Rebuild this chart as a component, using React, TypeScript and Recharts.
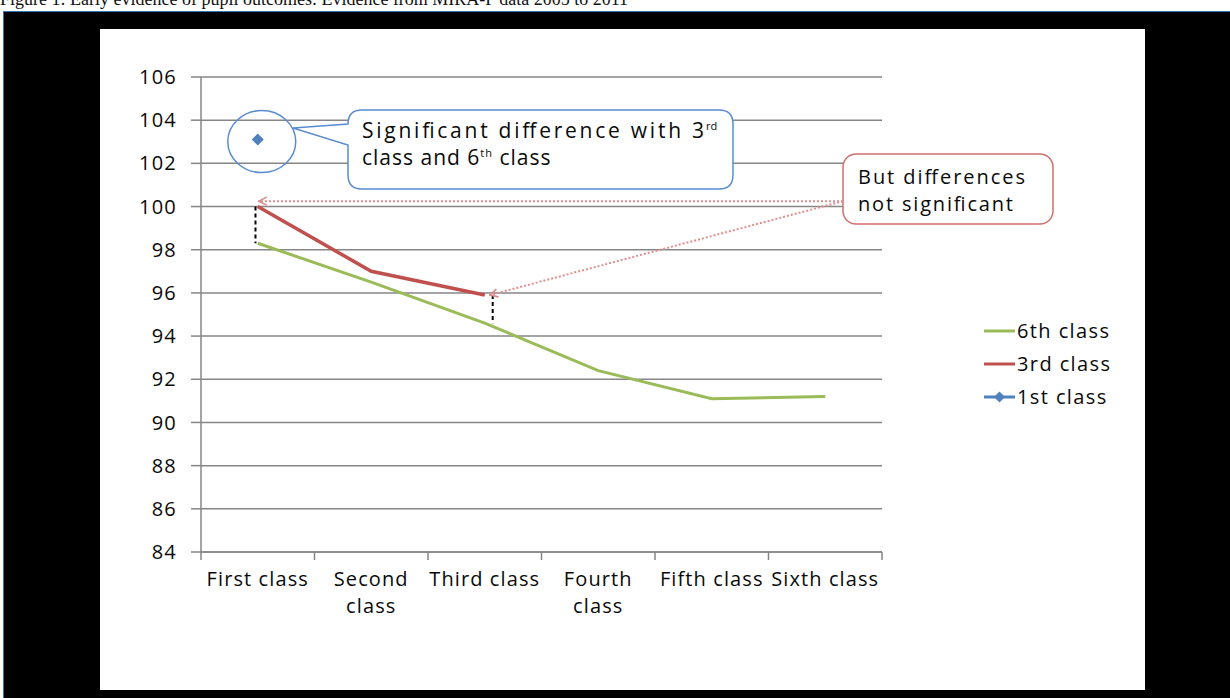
import React from 'react';
import { LineChart, Line, XAxis, YAxis, CartesianGrid, ReferenceLine } from 'recharts';

// categories and series values
const categories = ['First class', 'Second class', 'Third class', 'Fourth class', 'Fifth class', 'Sixth class'];
const tickLabels = [['First class'], ['Second', 'class'], ['Third class'], ['Fourth', 'class'], ['Fifth class'], ['Sixth class']];
const sixthClass = [98.3, 96.5, 94.6, 92.4, 91.1, 91.2];
const thirdClass = [100, 97.0, 95.9, null, null, null];
const firstClass = [103.1, null, null, null, null, null];
const yTicks = [84, 86, 88, 90, 92, 94, 96, 98, 100, 102, 104, 106];

const GREEN = '#9bbb59';
const RED = '#c0504d';
const BLUE = '#4f81bd';
const GRID = '#868686';
const TEXT = '#0a0a0a';
const FONT = '"Open Sans", sans-serif';

// plot box (matches chart margins below)
const PLOT = { left: 201, top: 77, right: 882, bottom: 552 };
const yMin = yTicks[0];
const yMax = yTicks[yTicks.length - 1];
const xPos = (i: number) => PLOT.left + (i + 0.5) * (PLOT.right - PLOT.left) / categories.length;
const yPos = (v: number) => PLOT.top + (yMax - v) / (yMax - yMin) * (PLOT.bottom - PLOT.top);

const rows = categories.map((name, i) => ({
  x: i + 0.5,
  name,
  sixth: sixthClass[i],
  third: thirdClass[i],
  first: firstClass[i],
}));

const xTicks = Array.from({ length: categories.length * 2 + 1 }, (_, k) => k / 2);

const XTick = (props: any) => {
  const { x, y, payload } = props;
  const v = payload.value;
  if (Number.isInteger(v)) {
    return <line x1={x} x2={x} y1={y - 8} y2={y} stroke={GRID} strokeWidth={1.5} />;
  }
  const lines = tickLabels[Math.floor(v)];
  return (
    <text x={x} y={y} textAnchor="middle" fill={TEXT} fontSize={20} letterSpacing={1.1} fontFamily={FONT}>
      {lines.map((l, k) => (
        <tspan key={k} x={x} dy={k === 0 ? 26 : 27}>{l}</tspan>
      ))}
    </text>
  );
};

const Diamond = (props: any) => {
  const { cx, cy, value } = props;
  if (value == null || cx == null) return null;
  return <path d={`M${cx} ${cy - 6} L${cx + 6} ${cy} L${cx} ${cy + 6} L${cx - 6} ${cy} Z`} fill={BLUE} />;
};

const legendItems = [
  { label: '6th class', color: GREEN, marker: false },
  { label: '3rd class', color: RED, marker: false },
  { label: '1st class', color: BLUE, marker: true },
];

const App: React.FC = () => {
  const a1 = { x: xPos(0) + 1, y: yPos(100.25) };
  const a2 = { x: xPos(2) + 5, y: yPos(95.9) };
  const boxEdge = { x: 843, y: yPos(100.25) };

  return (
    <div style={{ position: 'relative', width: 1230, height: 698, background: '#fff', overflow: 'hidden' }}>
      <style>{'body{margin:0}'}</style>

      {/* caption, cut off at the top */}
      <div style={{ position: 'absolute', left: 0, top: -10, fontFamily: '"Liberation Serif", serif', fontSize: 18, lineHeight: '18px', whiteSpace: 'nowrap', color: '#111' }}>
        Figure 1: Early evidence of pupil outcomes: Evidence from MIRA-P data 2005 to 2011
      </div>

      {/* black frame */}
      <div style={{ position: 'absolute', left: 3, top: 11, right: 0, bottom: 0, background: '#000', borderTop: '1px solid #2e75b6', borderLeft: '1px solid #2e75b6' }} />
      <div style={{ position: 'absolute', left: 100, top: 29, width: 1045, height: 661, background: '#fff' }} />

      <div style={{ position: 'absolute', left: 0, top: 0 }}>
        <LineChart width={1230} height={698} data={rows} margin={{ top: PLOT.top, right: 1230 - PLOT.right, bottom: 0, left: 0 }}>
          <CartesianGrid horizontal vertical={false} stroke={GRID} strokeWidth={1.5} />
          <XAxis
            type="number"
            dataKey="x"
            domain={[0, categories.length]}
            ticks={xTicks}
            interval={0}
            height={698 - PLOT.bottom}
            tickSize={8}
            tickMargin={0}
            tickLine={false}
            axisLine={{ stroke: GRID, strokeWidth: 1.5 }}
            tick={<XTick />}
          />
          <YAxis
            type="number"
            domain={[yMin, yMax]}
            ticks={yTicks}
            interval={0}
            width={PLOT.left}
            tickSize={10}
            tickMargin={14}
            tickLine={{ stroke: GRID, strokeWidth: 1.5 }}
            axisLine={{ stroke: GRID, strokeWidth: 1.5 }}
            tick={{ fill: TEXT, fontSize: 20, fontFamily: FONT, letterSpacing: 1.2 }}
          />
          <ReferenceLine segment={[{ x: 0.48, y: thirdClass[0] as number }, { x: 0.48, y: sixthClass[0] }]} stroke="#000" strokeWidth={2} strokeDasharray="4 3" />
          <ReferenceLine segment={[{ x: 2.57, y: thirdClass[2] as number }, { x: 2.57, y: sixthClass[2] }]} stroke="#000" strokeWidth={2} strokeDasharray="4 3" />
          <Line dataKey="sixth" stroke={GREEN} strokeWidth={3} dot={false} isAnimationActive={false} />
          <Line dataKey="third" stroke={RED} strokeWidth={3.5} dot={false} isAnimationActive={false} />
          <Line dataKey="first" stroke={BLUE} strokeWidth={3} dot={<Diamond />} activeDot={false} isAnimationActive={false} />
        </LineChart>
      </div>

      {/* annotations */}
      <svg width={1230} height={698} style={{ position: 'absolute', left: 0, top: 0, pointerEvents: 'none' }}>
        <defs>
          <marker id="chev" viewBox="0 0 10 10" refX="9" refY="5" markerWidth="10" markerHeight="10" markerUnits="userSpaceOnUse" orient="auto">
            <path d="M1 1 L9 5 L1 9" fill="none" stroke="#d88a88" strokeWidth="1.6" />
          </marker>
        </defs>
        <ellipse cx={xPos(0) + 4} cy={yPos(firstClass[0] as number) + 2} rx={34} ry={31} fill="none" stroke="#5b8ccf" strokeWidth={1.5} />
        <path
          d="M362 110 H719 Q733 110 733 124 V175 Q733 189 719 189 H362 Q348 189 348 175 V145 L293 128 L348 124 Q348 110 362 110 Z"
          fill="#fff"
          stroke="#5b8ccf"
          strokeWidth={1.5}
        />
        <text x={362} y={138} fontSize={21} fontFamily={FONT} fill={TEXT} textLength={342} lengthAdjust="spacing">
          Significant difference with 3
        </text>
        <text x={706} y={130} fontSize={11} fontFamily={FONT} fill={TEXT}>rd</text>
        <text x={362} y={165} fontSize={21} fontFamily={FONT} fill={TEXT} letterSpacing={1}>
          class and 6<tspan fontSize={11} dy={-8}>th</tspan><tspan dy={8}> class</tspan>
        </text>

        <rect x={843} y={154} width={210} height={70} rx={13} fill="#fff" stroke="#d0706e" strokeWidth={1.5} />
        <text x={858} y={184} fontSize={20} fontFamily={FONT} fill={TEXT} textLength={167} lengthAdjust="spacing">But differences</text>
        <text x={858} y={211} fontSize={20} fontFamily={FONT} fill={TEXT} textLength={155} lengthAdjust="spacing">not significant</text>

        <line x1={boxEdge.x} y1={boxEdge.y} x2={a1.x} y2={a1.y} stroke="#e08f8d" strokeWidth={2} strokeDasharray="2 2" markerEnd="url(#chev)" />
        <line x1={boxEdge.x} y1={boxEdge.y} x2={a2.x} y2={a2.y} stroke="#e08f8d" strokeWidth={2} strokeDasharray="2 2" markerEnd="url(#chev)" />
      </svg>

      {/* legend */}
      <div style={{ position: 'absolute', left: 984, top: 314, fontFamily: FONT, fontSize: 20, letterSpacing: 1.4, color: TEXT }}>
        {legendItems.map((item) => (
          <div key={item.label} style={{ display: 'flex', alignItems: 'center', height: 33 }}>
            <svg width={33} height={14}>
              <line x1={0} x2={31} y1={7} y2={7} stroke={item.color} strokeWidth={3} />
              {item.marker && <path d="M15.5 1.5 L21 7 L15.5 12.5 L10 7 Z" fill={item.color} />}
            </svg>
            <span>{item.label}</span>
          </div>
        ))}
      </div>
    </div>
  );
};

export default App;
